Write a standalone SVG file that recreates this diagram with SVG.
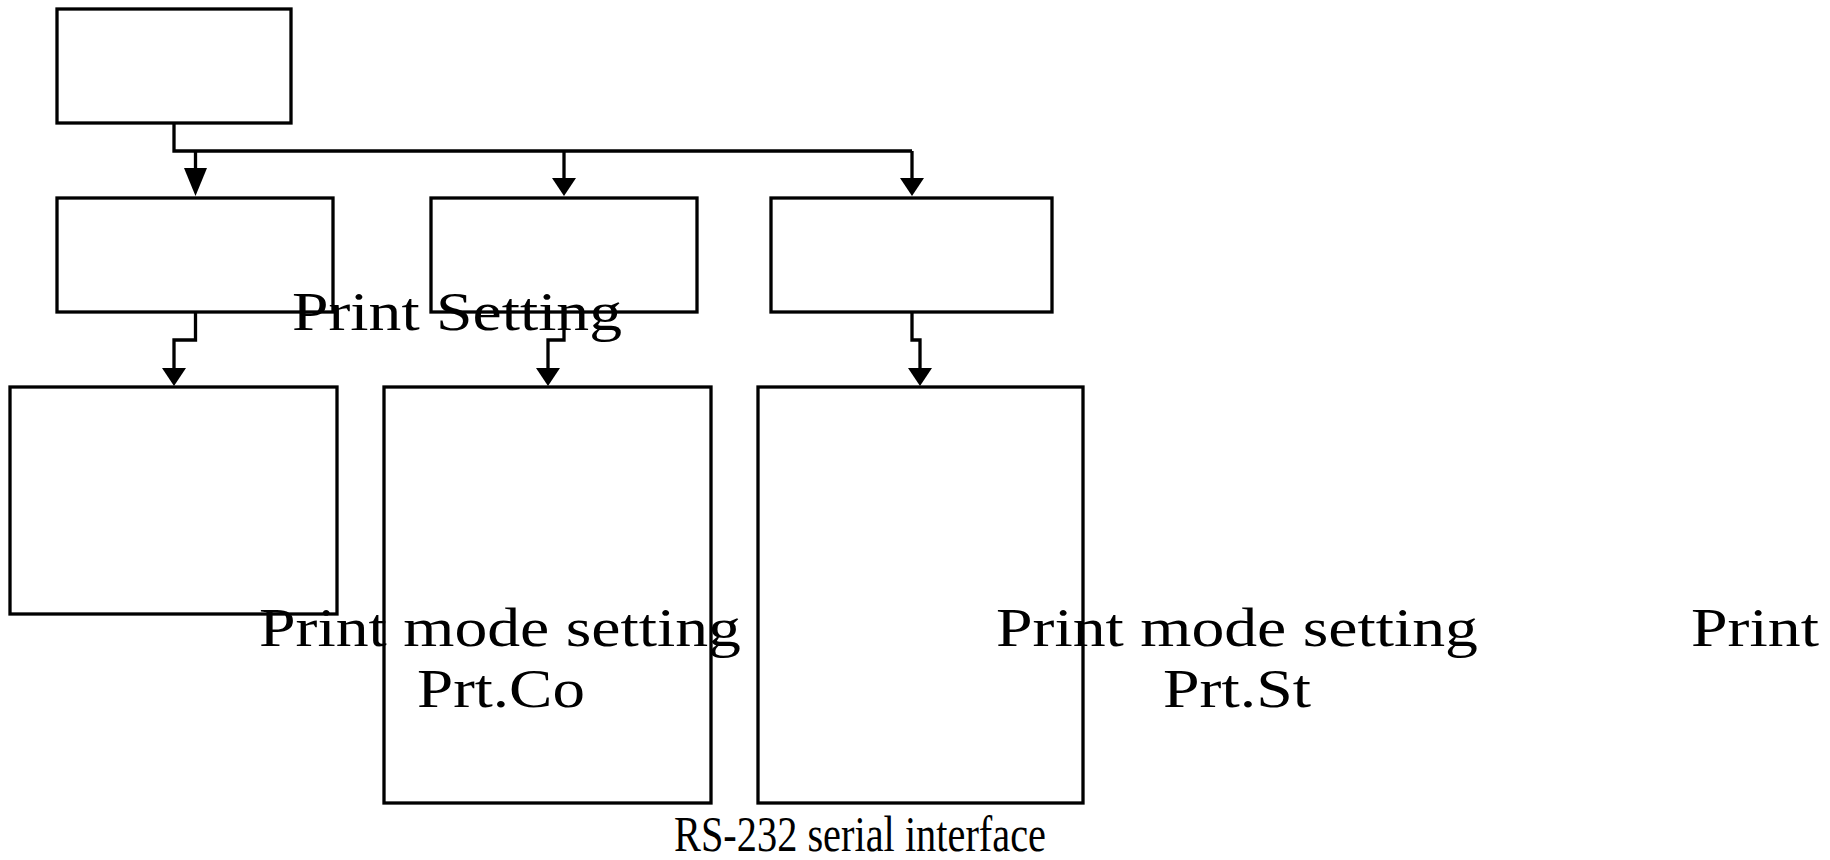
<svg xmlns="http://www.w3.org/2000/svg" width="1830" height="860" viewBox="0 0 1830 860">
  <style>
    .box { fill: #ffffff; stroke: #000000; stroke-width: 3.3; stroke-linejoin: miter; }
    .conn { fill: none; stroke: #000000; stroke-width: 3.3; stroke-linejoin: miter; }
    .lbl { font-family: "Liberation Serif", "Times New Roman", serif; font-size: 55px; fill: #000000; }
    .lbl-s { font-family: "Liberation Serif", "Times New Roman", serif; font-size: 50px; fill: #000000; }
  </style>
  <defs>
    <marker id="arr" markerUnits="userSpaceOnUse" viewBox="0 0 18 24" markerWidth="18" markerHeight="24" refX="0" refY="12" orient="auto">
      <path d="M0,0 L18,12 L0,24 Z" fill="#000000"/>
    </marker>
    <marker id="arrLong" markerUnits="userSpaceOnUse" viewBox="0 0 28 23" markerWidth="28" markerHeight="23" refX="0" refY="11.5" orient="auto">
      <path d="M0,0 L28,11.5 L0,23 Z" fill="#000000"/>
    </marker>
  </defs>

  <g id="nodes">
    <g id="n-top"><rect class="box" x="57" y="9" width="234" height="114"/></g>
    <g id="n-a"><rect class="box" x="57" y="198" width="276" height="114"/></g>
    <g id="n-b"><rect class="box" x="431" y="198" width="266" height="114"/></g>
    <g id="n-c"><rect class="box" x="771" y="198" width="281" height="114"/></g>
    <g id="n-d"><rect class="box" x="10" y="387" width="327" height="227"/></g>
    <g id="n-e"><rect class="box" x="384" y="387" width="327" height="416"/></g>
    <g id="n-f"><rect class="box" x="758" y="387" width="325" height="416"/></g>
  </g>

  <g id="connectors">
    <path class="conn" d="M174,123 V151 H912"/>
    <path class="conn" d="M195.5,151 V168" marker-end="url(#arrLong)"/>
    <path class="conn" d="M564,151 V178" marker-end="url(#arr)"/>
    <path class="conn" d="M912,151 V178" marker-end="url(#arr)"/>
    <path class="conn" d="M195.5,312 V340 H174 V368" marker-end="url(#arr)"/>
    <path class="conn" d="M564,312 V340 H548 V368" marker-end="url(#arr)"/>
    <path class="conn" d="M912,312 V340 H920 V368" marker-end="url(#arr)"/>
  </g>

  <g id="labels">
    <text class="lbl" x="292" y="330" textLength="330" lengthAdjust="spacingAndGlyphs">Print Setting</text>
    <text class="lbl" x="259" y="646" textLength="482" lengthAdjust="spacingAndGlyphs">Print mode setting</text>
    <text class="lbl" x="417" y="707" textLength="168" lengthAdjust="spacingAndGlyphs">Prt.Co</text>
    <text class="lbl" x="996" y="646" textLength="482" lengthAdjust="spacingAndGlyphs">Print mode setting</text>
    <text class="lbl" x="1163" y="707" textLength="148" lengthAdjust="spacingAndGlyphs">Prt.St</text>
    <text class="lbl" x="1691" y="646" textLength="128" lengthAdjust="spacingAndGlyphs">Print</text>
    <text class="lbl-s" x="674" y="851" textLength="372" lengthAdjust="spacingAndGlyphs">RS-232 serial interface</text>
  </g>
</svg>
